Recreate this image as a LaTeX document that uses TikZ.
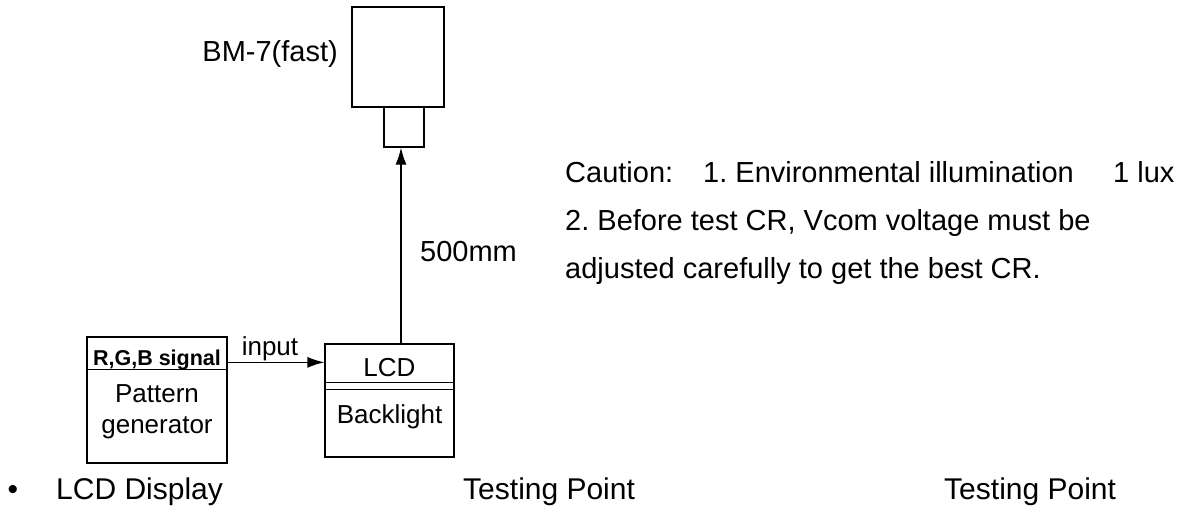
\documentclass[tikz,border=0pt]{standalone}
\usepackage{fontspec}
\setmainfont{Liberation Sans}
\usetikzlibrary{arrows.meta}
\frenchspacing

\begin{document}
\begin{tikzpicture}[x=1pt,y=-1pt]
  \tikzstyle{Box}=[draw,line width=1.3pt,inner sep=0pt]
  \tikzstyle{Arrow}=[line width=1.3pt,-{Latex[length=17pt,width=11pt]}]
  \tikzstyle{Big}=[inner sep=0pt,font=\fontsize{30}{36}\selectfont]
  \tikzstyle{Mid}=[inner sep=0pt,font=\fontsize{29}{34}\selectfont]
  \tikzstyle{Small}=[inner sep=0pt,font=\fontsize{26}{30}\selectfont]
  \useasboundingbox (0,0) rectangle (1185,508);
  % camera
  \node[Box,minimum width=92pt,minimum height=100pt] (Cam) at (398,57) {};
  \node[Box,minimum width=40pt,minimum height=40pt] (Lens) at (404,127) {};
  \node[Mid,anchor=base east] (CamLabel) at (338,62) {BM-7(fast)};
  % pattern generator
  \node[Box,minimum width=140pt,minimum height=126pt] (Gen) at (157,400) {};
  \draw[line width=1.3pt] ([yshift=-33pt]Gen.north west) -- ([yshift=-33pt]Gen.north east);
  \node[inner sep=0pt,font=\fontsize{21.5}{26}\selectfont\bfseries,anchor=base] (Sig) at (157,365) {R,G,B signal};
  \node[Small,anchor=base] (Pat) at (157,402) {Pattern};
  \node[Small,anchor=base] (PatB) at (157,433) {generator};
  % LCD module
  \node[Box,minimum width=129pt,minimum height=113pt] (LCD) at (389.5,400.5) {};
  \draw[line width=1.3pt] ([yshift=-39pt]LCD.north west) -- ([yshift=-39pt]LCD.north east);
  \draw[line width=1.3pt] ([yshift=-46pt]LCD.north west) -- ([yshift=-46pt]LCD.north east);
  \node[Small,anchor=base] (LCDText) at (389.5,376) {LCD};
  \node[Small,anchor=base] (BL) at (389.5,423) {Backlight};
  % connectors
  \draw[Arrow] ([yshift=-26pt]Gen.north east) -- ([yshift=-19pt]LCD.north west);
  \node[Small,anchor=base] (In) at (270,355) {input};
  \draw[Arrow] ([xshift=11.5pt]LCD.north) -- ([xshift=-3pt]Lens.south);
  \node[Mid,anchor=base west] (Dist) at (420,261) {500mm};
  % caution text
  \node[Mid,anchor=base west] (Caution) at (565,182) {Caution:};
  \node[Mid,anchor=base west] (NoteA) at (703,182) {1. Environmental illumination};
  \node[Mid,anchor=base west] (Lux) at (1113,182) {1 lux};
  \node[Mid,anchor=base west] (NoteB) at (565,230) {2. Before test CR, Vcom voltage must be};
  \node[Mid,anchor=base west] (NoteC) at (565,278) {adjusted carefully to get the best CR.};
  % bottom row
  \node[Big,anchor=base] (Dot) at (13,499) {\textbullet};
  \node[Big,anchor=base west] (Disp) at (56,499) {LCD Display};
  \node[Big,anchor=base west] (TP1) at (463,499) {Testing Point};
  \node[Big,anchor=base west] (TP2) at (944,499) {Testing Point};
\end{tikzpicture}
\end{document}
